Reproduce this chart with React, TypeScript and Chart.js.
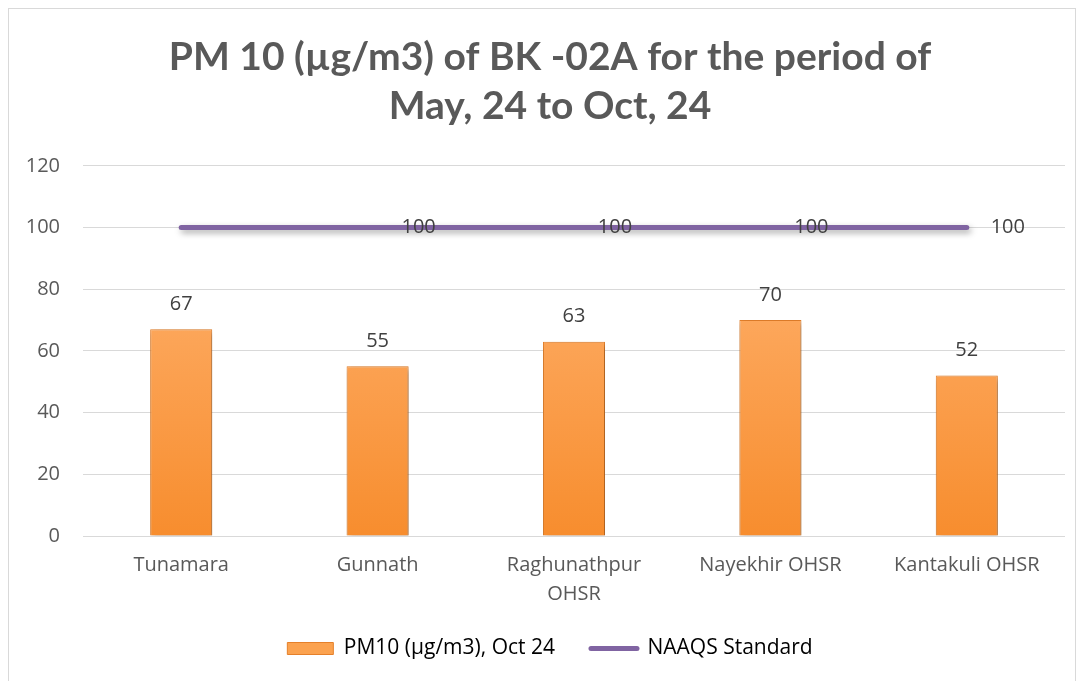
import React, { useEffect, useRef } from "react";
import { Chart, registerables } from "chart.js";

Chart.register(...registerables);

const titleLines = ["PM 10 (µg/m3) of BK -02A for the period of", "May, 24 to Oct, 24"];
const categories: (string | string[])[] = [
  "Tunamara",
  "Gunnath",
  ["Raghunathpur", "OHSR"],
  "Nayekhir OHSR",
  "Kantakuli OHSR",
];
const pm10Values = [67, 55, 63, 70, 52];
const naaqsValues = [100, 100, 100, 100, 100];
const barLabel = "PM10 (µg/m3), Oct 24";
const lineLabel = "NAAQS Standard";
const yTicks = { min: 0, max: 120, step: 20 };

const TITLE_FONT = "Lato, 'Open Sans', sans-serif";
const FONT = "'Open Sans', Lato, sans-serif";
const TEXT = "#595959";
const PURPLE = "#8064a2";

const labelsPlugin = {
  id: "valueLabels",
  afterDatasetsDraw(chart: any) {
    const ctx = chart.ctx;
    ctx.save();
    ctx.font = `20px ${FONT}`;
    ctx.fillStyle = "#404040";
    ctx.textBaseline = "middle";
    ctx.textAlign = "center";
    chart.data.datasets.forEach((ds: any, i: number) => {
      const meta = chart.getDatasetMeta(i);
      meta.data.forEach((el: any, j: number) => {
        const v = ds.data[j];
        if (ds.type === "line") {
          if (j === 0) return;
          ctx.fillText(String(v), el.x + 41, el.y);
        } else {
          ctx.fillText(String(v), el.x, el.y - 25);
        }
      });
    });
    ctx.restore();
  },
};

const shadowPlugin = {
  id: "shadows",
  beforeDatasetDraw(chart: any) {
    const ctx = chart.ctx;
    ctx.save();
    ctx.shadowColor = "rgba(0,0,0,0.35)";
    ctx.shadowBlur = 6;
    ctx.shadowOffsetX = 2;
    ctx.shadowOffsetY = 3;
  },
  afterDatasetDraw(chart: any) {
    chart.ctx.restore();
  },
};

function barGradient(chart: any) {
  const area = chart.chartArea;
  if (!area) return "#f79646";
  const g = chart.ctx.createLinearGradient(0, area.top + 100, 0, area.bottom);
  g.addColorStop(0, "#fead66");
  g.addColorStop(1, "#f78d2e");
  return g;
}

export default function App() {
  const ref = useRef<HTMLCanvasElement | null>(null);
  useEffect(() => {
    if (!ref.current) return;
    const chart = new Chart(ref.current, {
      type: "bar",
      data: {
        labels: categories,
        datasets: [
          {
            type: "bar",
            label: barLabel,
            data: pm10Values,
            backgroundColor: (c: any) => barGradient(c.chart),
            borderColor: "#e5802a",
            borderWidth: 1,
            barPercentage: 0.316,
            categoryPercentage: 1,
            order: 2,
          } as any,
          {
            type: "line",
            label: lineLabel,
            data: naaqsValues,
            borderColor: PURPLE,
            backgroundColor: PURPLE,
            borderWidth: 5,
            borderCapStyle: "round",
            pointRadius: 0,
            pointHoverRadius: 0,
            order: 1,
          } as any,
        ],
      },
      options: {
        animation: false,
        responsive: true,
        maintainAspectRatio: false,
        layout: { padding: { left: 26, right: 10, top: 0, bottom: 30 } },
        plugins: {
          tooltip: { enabled: false },
          title: {
            display: true,
            text: titleLines,
            color: TEXT,
            font: { family: TITLE_FONT, size: 39, weight: "bold", lineHeight: 1.28 },
            padding: { top: 23, bottom: 34 },
          },
          legend: {
            position: "bottom",
            labels: {
              color: TEXT,
              font: { family: FONT, size: 21 },
              usePointStyle: true,
              pointStyleWidth: 46,
              boxHeight: 12,
              padding: 36,
              generateLabels: () => [
                {
                  text: barLabel,
                  fillStyle: "#fba24f",
                  strokeStyle: "#e5802a",
                  lineWidth: 1,
                  pointStyle: "rect",
                  datasetIndex: 0,
                  hidden: false,
                },
                {
                  text: lineLabel,
                  fillStyle: PURPLE,
                  strokeStyle: PURPLE,
                  lineWidth: 5,
                  lineCap: "round",
                  pointStyle: "line",
                  datasetIndex: 1,
                  hidden: false,
                },
              ],
            },
          },
        },
        scales: {
          x: {
            afterFit: (scale: any) => {
              scale.height = 66;
              scale._computeLabelArea = () => undefined;
            },
            grid: { display: false, drawTicks: false },
            border: { display: false },
            ticks: {
              color: TEXT,
              font: { family: FONT, size: 20, lineHeight: 1.45 },
              padding: 15,
              maxRotation: 0,
              autoSkip: false,
            },
          },
          y: {
            min: yTicks.min,
            max: yTicks.max,
            afterFit: (scale: any) => {
              scale.width = 48;
              scale._computeLabelArea = () => undefined;
            },
            grid: { color: "#d9d9d9", lineWidth: 1, drawTicks: false },
            border: { display: false },
            ticks: {
              stepSize: yTicks.step,
              color: TEXT,
              font: { family: FONT, size: 20 },
              padding: 23,
            },
          },
        },
      } as any,
      plugins: [shadowPlugin, labelsPlugin],
    });
    return () => chart.destroy();
  }, []);

  return (
    <div
      style={{
        position: "relative",
        width: 1066,
        height: 690,
        border: "1px solid #d9d9d9",
        background: "#fff",
      }}
    >
      <canvas ref={ref} />
    </div>
  );
}
